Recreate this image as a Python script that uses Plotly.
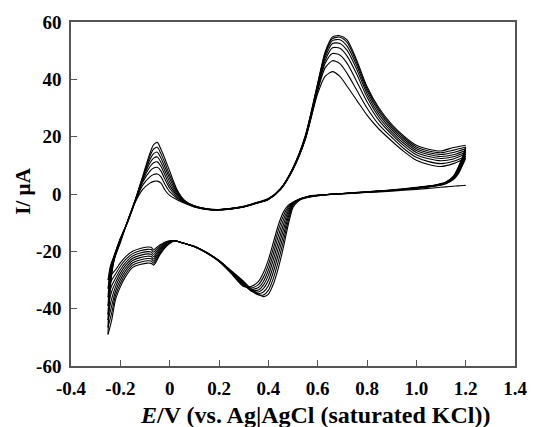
import plotly.graph_objects as go

# Potential grids (V vs Ag|AgCl)
E_anodic = [-0.25, -0.24, -0.225, -0.2, -0.17, -0.14, -0.11, -0.08, -0.065, -0.05,
            -0.035, -0.02, 0.0, 0.03, 0.06, 0.1, 0.15, 0.2, 0.25, 0.3,
            0.35, 0.4, 0.45, 0.5, 0.55, 0.6, 0.63, 0.66, 0.69, 0.72,
            0.76, 0.8, 0.85, 0.9, 0.95, 1.0, 1.05, 1.1, 1.15, 1.2]
E_cathodic = [1.2, 1.19, 1.17, 1.15, 1.12, 1.08, 1.0, 0.9, 0.8, 0.7,
              0.62, 0.56, 0.52, 0.5, 0.48, 0.46, 0.44, 0.42, 0.4, 0.38,
              0.36, 0.33, 0.3, 0.25, 0.2, 0.15, 0.1, 0.05, 0.02, 0.0,
              -0.02, -0.04, -0.055, -0.065, -0.075, -0.09, -0.12, -0.15, -0.18, -0.2,
              -0.22, -0.235, -0.25]

# Anodic sweeps (µA), cycle 1..8
anodic_1 = [-30, -25, -21.5, -15.5, -9.8, -3, 1.5, 3.8, 4.4, 4.5, 3.8, 1.5, -0.5, -2, -3.2, -4.5, -5.4, -5.6, -5.2, -4.5, -3.3, -1.9, 1.6, 8.5, 19, 35, 41, 42.7, 41, 37.5, 32.5, 27.5, 22.5, 18.5, 14.8, 11.8, 10.3, 9.6, 10.6, 12.5]
anodic_2 = [-33, -26, -21.5, -15.5, -9.7, -2.8, 3, 6, 6.8, 7, 6, 3.5, 0.8, -1.5, -3, -4.4, -5.4, -5.6, -5.2, -4.5, -3.3, -1.9, 1.7, 8.6, 19.2, 36, 44, 46.5, 45.5, 42, 36, 30, 24, 19.8, 15.8, 12.8, 11.3, 10.6, 11.4, 13.2]
anodic_3 = [-36, -27, -22, -16, -9.6, -2.6, 4, 8, 9.1, 9.3, 8, 5.3, 2, -1, -2.9, -4.4, -5.3, -5.5, -5.2, -4.5, -3.2, -1.8, 1.7, 8.7, 19.4, 36.5, 45.5, 49, 48.5, 45.5, 39, 32.2, 25.5, 20.8, 16.8, 13.7, 12.3, 11.6, 12.2, 14]
anodic_4 = [-39, -28, -22, -16, -9.5, -2.5, 4.5, 9.5, 10.9, 11.2, 9.6, 6.8, 3, -0.5, -2.8, -4.3, -5.3, -5.5, -5.1, -4.4, -3.2, -1.8, 1.8, 8.8, 19.6, 37, 46.5, 51, 50.8, 48, 41.5, 33.8, 26.6, 21.6, 17.6, 14.5, 13.1, 12.4, 13, 14.6]
anodic_5 = [-42, -29, -22.5, -16, -9.5, -2.4, 5, 10.8, 12.5, 12.9, 11, 8.2, 4.2, 0, -2.6, -4.3, -5.3, -5.5, -5.1, -4.4, -3.2, -1.8, 1.8, 8.9, 19.8, 37.5, 47.5, 52.5, 52.5, 50, 43.2, 35, 27.6, 22.4, 18.4, 15.2, 13.8, 13.1, 13.7, 15.2]
anodic_6 = [-44, -30, -22.5, -16.5, -9.4, -2.3, 5.3, 12, 14.1, 14.6, 12.5, 9.6, 5.4, 0.5, -2.5, -4.2, -5.2, -5.5, -5.1, -4.4, -3.1, -1.7, 1.9, 9, 20, 38, 48.5, 53.5, 53.8, 51.5, 44.5, 36, 28.5, 23.1, 19.1, 15.8, 14.4, 13.8, 14.5, 15.8]
anodic_7 = [-46.5, -31, -23, -16.5, -9.3, -2.2, 5.6, 13.2, 15.7, 16.3, 14, 11, 6.6, 1, -2.3, -4.2, -5.2, -5.4, -5.0, -4.3, -3.1, -1.7, 1.9, 9.1, 20.2, 38.3, 49, 54.2, 54.7, 52.8, 45.5, 36.8, 29.2, 23.7, 19.7, 16.4, 15, 14.4, 15.3, 16.4]
anodic_8 = [-49, -32, -23, -17, -9.2, -2.1, 6, 14.2, 17.2, 18, 15.5, 12.5, 8, 1.5, -2.2, -4.1, -5.2, -5.4, -5.0, -4.3, -3.0, -1.6, 2.0, 9.2, 20.4, 38.6, 49.5, 54.8, 55.2, 53.7, 46.3, 37.5, 29.8, 24.3, 20.2, 17, 15.6, 15, 16.2, 17]

# Cathodic sweeps (µA), cycle 1..8
cathodic_1 = [3, 2.95, 2.85, 2.7, 2.5, 2.2, 1.6, 1, 0.5, 0, -0.4, -1.2, -2.2, -2.9, -4, -6.5, -11, -17, -23, -27.5, -30.5, -32.3, -32.3, -27.8, -23.5, -20.6, -18.4, -17, -16.3, -16.3, -16.8, -17.8, -18.8, -19.5, -18.6, -18.5, -19, -20, -22, -24, -26.5, -28, -30]
cathodic_2 = [12.5, 10.5, 7, 5, 3.6, 2.8, 2, 1.2, 0.6, 0.1, -0.4, -1.1, -2.1, -2.9, -4.6, -7.8, -12.8, -19, -24.8, -29, -31.6, -32.8, -32, -27.6, -23.5, -20.6, -18.4, -17, -16.3, -16.4, -17, -18.3, -19.5, -20.3, -19.4, -19.3, -19.8, -20.8, -23, -25.2, -28, -30, -33]
cathodic_3 = [13.2, 11, 7.4, 5.2, 3.7, 2.9, 2, 1.2, 0.6, 0.1, -0.3, -1.0, -2.0, -3, -5.3, -9.3, -14.8, -21, -26.6, -30.5, -32.6, -33.3, -31.8, -27.4, -23.4, -20.5, -18.3, -17, -16.3, -16.5, -17.3, -18.8, -20.2, -21.1, -20.2, -20.1, -20.6, -21.6, -24, -26.4, -29.5, -32, -36]
cathodic_4 = [14, 11.6, 7.8, 5.4, 3.8, 3, 2.1, 1.3, 0.7, 0.1, -0.3, -1.0, -2.0, -3.1, -6.2, -11, -16.9, -23, -28.4, -31.8, -33.5, -33.6, -31.6, -27.3, -23.4, -20.5, -18.3, -17, -16.3, -16.6, -17.6, -19.3, -20.9, -21.9, -21, -20.9, -21.4, -22.4, -25, -27.6, -31, -34, -39]
cathodic_5 = [14.6, 12.1, 8.2, 5.6, 3.9, 3, 2.1, 1.3, 0.7, 0.2, -0.3, -0.9, -2.0, -3.3, -7.2, -12.8, -19, -25.2, -30.2, -33, -34.2, -33.8, -31.3, -27.2, -23.3, -20.5, -18.3, -17, -16.3, -16.7, -17.9, -19.8, -21.6, -22.7, -21.8, -21.7, -22.2, -23.2, -26, -28.8, -32.5, -36.5, -42]
cathodic_6 = [15.2, 12.6, 8.6, 5.8, 4, 3.1, 2.2, 1.3, 0.7, 0.2, -0.3, -0.9, -2.1, -3.6, -8.3, -14.7, -21.2, -27.3, -32, -34.2, -34.8, -33.8, -31, -27, -23.3, -20.4, -18.3, -17, -16.3, -16.9, -18.2, -20.3, -22.3, -23.4, -22.6, -22.5, -23, -24, -27, -30, -34, -39, -44]
cathodic_7 = [15.8, 13.1, 9, 6, 4.1, 3.1, 2.2, 1.4, 0.8, 0.2, -0.3, -0.9, -2.3, -4, -9.6, -16.8, -23.6, -29.5, -33.6, -35.2, -35.2, -33.6, -30.8, -26.9, -23.2, -20.4, -18.2, -17, -16.3, -17.1, -18.5, -20.8, -23, -24.1, -23.4, -23.3, -23.8, -24.8, -28, -31.2, -35.5, -41.5, -46.5]
cathodic_8 = [16.4, 13.6, 9.4, 6.2, 4.2, 3.2, 2.3, 1.4, 0.8, 0.2, -0.3, -0.8, -2.6, -4.7, -11, -19, -26, -31.5, -35, -35.8, -35, -33, -30.5, -26.8, -23.2, -20.4, -18.2, -17, -16.3, -17.3, -18.9, -21.3, -23.7, -24.8, -24.2, -24.1, -24.6, -25.6, -29, -32.4, -37, -44, -49]

x_tickvals = [-0.4, -0.2, 0, 0.2, 0.4, 0.6, 0.8, 1.0, 1.2, 1.4]
x_ticktext = ["-0.4", "-0.2", "0", "0.2", "0.4", "0.6", "0.8", "1.0", "1.2", "1.4"]
y_tickvals = [-60, -40, -20, 0, 20, 40, 60]
y_ticktext = ["-60", "-40", "-20", "0", "20", "40", "60"]

anodic = [anodic_1, anodic_2, anodic_3, anodic_4, anodic_5, anodic_6, anodic_7, anodic_8]
cathodic = [cathodic_1, cathodic_2, cathodic_3, cathodic_4, cathodic_5, cathodic_6, cathodic_7, cathodic_8]

fig = go.Figure()
line = dict(color="black", width=1.1, shape="spline", smoothing=0.7)
for c, a in zip(cathodic, anodic):
    fig.add_trace(go.Scatter(x=E_cathodic, y=c, mode="lines", line=line,
                             showlegend=False, hoverinfo="skip"))
    fig.add_trace(go.Scatter(x=E_anodic, y=a, mode="lines", line=line,
                             showlegend=False, hoverinfo="skip"))

font_family = "Liberation Serif"
axis_common = dict(showgrid=False, zeroline=False, showline=True, mirror=True,
                   linecolor="#555555", linewidth=1.6, ticks="inside", ticklen=6,
                   tickwidth=1.2, tickcolor="#555555",
                   tickfont=dict(family=font_family, size=19, color="black"))

fig.update_xaxes(range=[-0.4, 1.4], tickvals=x_tickvals,
                 ticktext=["<b>" + t + "</b>" for t in x_ticktext],
                 ticklabelstandoff=4, **axis_common)
fig.update_yaxes(range=[-60, 60], tickvals=y_tickvals,
                 ticktext=["<b>" + t + "</b>" for t in y_ticktext],
                 ticklabelstandoff=4, **axis_common)

fig.add_annotation(text="<b><i>E</i>/V (vs. Ag|AgCl (saturated KCl))</b>",
                   xref="paper", yref="paper", x=0.55, y=-0.142,
                   xanchor="center", yanchor="middle", showarrow=False,
                   font=dict(family=font_family, size=24, color="black"))
fig.add_annotation(text="<b>I/ µA</b>", textangle=-90,
                   xref="paper", yref="paper", x=-0.108, y=0.507,
                   xanchor="center", yanchor="middle", showarrow=False,
                   font=dict(family=font_family, size=21, color="black"))

fig.update_layout(width=539, height=427, margin=dict(l=71, r=13, t=15, b=61),
                  paper_bgcolor="white", plot_bgcolor="white")

fig.write_html("out.html")
